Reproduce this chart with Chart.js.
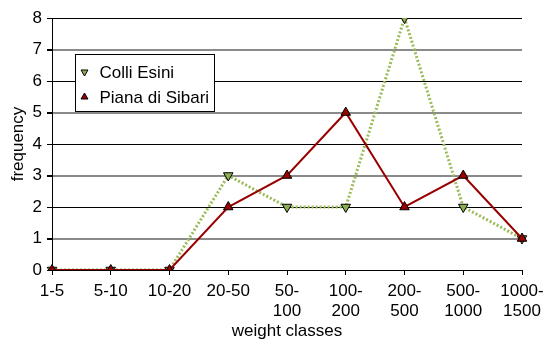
<!DOCTYPE html>
<html>
<head>
<meta charset="utf-8">
<script src="https://cdn.jsdelivr.net/npm/chart.js@4.4.1/dist/chart.umd.min.js"></script>
<style>
  html, body { margin: 0; padding: 0; background: #fff; }
</style>
</head>
<body>
<canvas id="chart" width="544" height="343"></canvas>
<script>
// weight classes on the x axis; every label has two lines so the first lines line up
const weightClasses = [['1-5', ''], ['5-10', ''], ['10-20', ''], ['20-50', ''], ['50-', '100'], ['100-', '200'], ['200-', '500'], ['500-', '1000'], ['1000-', '1500']];
const colliEsini = [0, 0, 0, 3, 2, 2, 8, 2, 1];
const pianaDiSibari = [0, 0, 0, 2, 3, 5, 2, 3, 1];
const freqMin = 0;
const freqMax = 8;

const FONT = 'Liberation Sans, Arial, sans-serif';
const GREEN_LINE = '#9BBB59';
const GREEN_FILL = '#8BAF52';
const RED = '#990000';

// legend drawn as a boxed panel inside the plot area
const boxedLegend = {
  id: 'boxedLegend',
  afterDraw(chart) {
    const ctx = chart.ctx;
    const area = chart.chartArea;
    const x = Math.round(area.left + 23) + 0.5;
    const y = Math.round(area.top + 36) + 0.5;
    const w = 139, h = 57;
    ctx.save();
    ctx.fillStyle = '#fff';
    ctx.fillRect(x, y, w, h);
    ctx.strokeStyle = '#000';
    ctx.lineWidth = 1;
    ctx.strokeRect(x, y, w, h);
    ctx.font = '17px ' + FONT;
    ctx.textBaseline = 'middle';
    chart.data.datasets.slice().sort((a, b) => b.order - a.order).forEach((ds, i) => {
      const cy = y + 17.5 + i * 25;
      ctx.fillStyle = ds.pointBackgroundColor;
      ctx.strokeStyle = '#000';
      ctx.lineWidth = 1;
      Chart.helpers.drawPoint(ctx, {
        pointStyle: 'triangle',
        radius: 4,
        rotation: ds.pointRotation,
        borderWidth: 1
      }, x + 9, cy);
      ctx.fillStyle = '#000';
      ctx.fillText(ds.label, x + 24, cy + 1);
    });
    ctx.restore();
  }
};

new Chart(document.getElementById('chart'), {
  type: 'line',
  data: {
    labels: weightClasses,
    datasets: [
      {
        label: 'Colli Esini',
        data: colliEsini,
        order: 2,
        borderColor: GREEN_LINE,
        borderWidth: 3,
        borderDash: [2, 2],
        pointStyle: 'triangle',
        pointRotation: 180,
        pointRadius: 5.5,
        pointBackgroundColor: GREEN_FILL,
        pointBorderColor: '#000',
        pointBorderWidth: 1,
        tension: 0
      },
      {
        label: 'Piana di Sibari',
        data: pianaDiSibari,
        order: 1,
        borderColor: RED,
        borderWidth: 2,
        pointStyle: 'triangle',
        pointRotation: 0,
        pointRadius: 5.5,
        pointBackgroundColor: RED,
        pointBorderColor: '#000',
        pointBorderWidth: 1,
        tension: 0
      }
    ]
  },
  options: {
    responsive: false,
    animation: false,
    devicePixelRatio: 1,
    layout: { padding: { top: 18, right: 22, left: 0, bottom: 0 } },
    plugins: {
      legend: { display: false },
      tooltip: { enabled: false }
    },
    scales: {
      x: {
        offset: false,
        grid: {
          drawOnChartArea: false,
          drawTicks: true,
          tickLength: 5,
          tickColor: '#000'
        },
        border: { color: '#000', width: 1 },
        ticks: {
          color: '#000',
          font: { family: FONT, size: 17, lineHeight: '20px' },
          padding: 6,
          maxRotation: 0,
          autoSkip: false
        },
        title: {
          display: true,
          text: 'weight classes',
          color: '#000',
          font: { family: FONT, size: 17 },
          padding: { top: 0, bottom: 1 }
        },
        afterFit(scale) {
          // fixed axis band; edge labels may hang into the layout padding
          scale.height = 73;
          scale.paddingLeft = 0;
          scale.paddingRight = 0;
        }
      },
      y: {
        min: freqMin,
        max: freqMax,
        grid: {
          color: c => (c.tick && c.tick.value % 2) ? '#8a8a8a' : '#000',
          lineWidth: c => (c.tick && c.tick.value % 2) ? 2 : 1,
          tickColor: '#000',
          tickLength: 5
        },
        border: { color: '#000', width: 1 },
        ticks: {
          stepSize: 1,
          color: '#000',
          font: { family: FONT, size: 17 },
          padding: 5
        },
        title: {
          display: true,
          text: 'frequency',
          color: '#000',
          font: { family: FONT, size: 17 },
          padding: { top: 8, bottom: 0 }
        },
        afterFit(scale) { scale.width = 52; }
      }
    }
  },
  plugins: [boxedLegend]
});
</script>
</body>
</html>
